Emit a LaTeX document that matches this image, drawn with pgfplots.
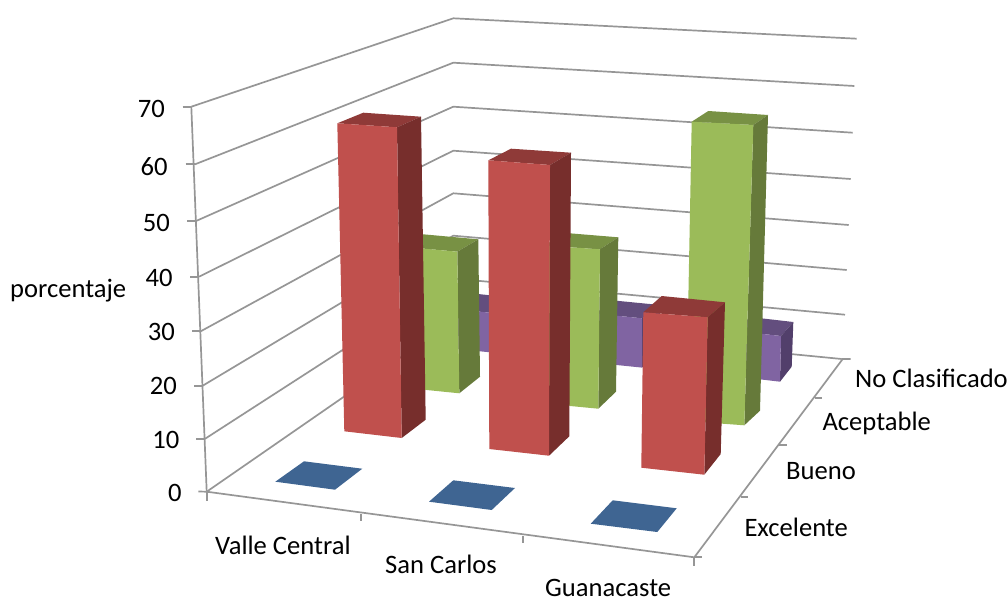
\documentclass[border=0pt]{standalone}
\usepackage{pgfplots}
\pgfplotsset{compat=1.18}
\usepackage{fontspec}
\setmainfont{Carlito}
\definecolor{gridc}{HTML}{969696}
\definecolor{redF}{HTML}{C0504D}\definecolor{redT}{HTML}{8F3A38}\definecolor{redS}{HTML}{772E2C}
\definecolor{greenF}{HTML}{9BBB59}\definecolor{greenT}{HTML}{789144}\definecolor{greenS}{HTML}{667A3A}
\definecolor{purpF}{HTML}{8064A2}\definecolor{purpT}{HTML}{634E7E}\definecolor{purpS}{HTML}{523F6B}
\definecolor{blueF}{HTML}{3F6592}
\pgfplotsset{
  grid line/.style={draw=gridc,line width=1.7pt,no marks,forget plot},
  face/.style={fill=#1,draw=none,no marks,forget plot},
}
\newcommand{\lab}[3]{\node[anchor=base west,inner sep=0pt,font=\fontsize{26.6}{27}\selectfont,text=black] at (axis cs:#1,#2) {#3};}
\newcommand{\tlab}[3]{\node[anchor=east,inner sep=0pt,font=\fontsize{26.6}{27}\selectfont,text=black] at (axis cs:#1,#2) {#3};}
\begin{document}
\begin{tikzpicture}
\path[use as bounding box] (0,0) rectangle (1008pt,599pt);
\begin{axis}[at={(0,0)},anchor=south west,scale only axis,width=1008pt,height=599pt,
  xmin=0,xmax=1008,ymin=0,ymax=599,y dir=reverse,hide axis,clip=false]

% wall gridlines, 70 down to 0
\addplot[grid line] coordinates {(191.3,106.7)(453.3,18.3)(856.7,38.7)};
\addplot[grid line] coordinates {(195,164.3)(453.3,62.7)(854.3,86)};
\addplot[grid line] coordinates {(196.7,220.7)(453.3,106.7)(852.7,132.7)};
\addplot[grid line] coordinates {(199,276.7)(453.3,150.7)(850.7,179)};
\addplot[grid line] coordinates {(200.7,331.3)(453.3,193.3)(848.7,225)};
\addplot[grid line] coordinates {(202.7,385.7)(453.3,235.7)(846.7,270)};
\addplot[grid line] coordinates {(204.7,439)(453.3,278.5)(845,314.7)};
\addplot[grid line] coordinates {(206.7,491.7)(453.3,321)(841.7,359)};

% value axis and its ticks
\addplot[grid line] coordinates {(191.3,106.7)(206.7,491.7)};
\addplot[grid line] coordinates {(182.7,106.7)(191.3,106.7)};
\addplot[grid line] coordinates {(185.7,164.3)(195,164.3)};
\addplot[grid line] coordinates {(187.3,220.7)(196.7,220.7)};
\addplot[grid line] coordinates {(190,276.7)(199,276.7)};
\addplot[grid line] coordinates {(192,331.3)(200.7,331.3)};
\addplot[grid line] coordinates {(194.3,385.7)(202.7,385.7)};
\addplot[grid line] coordinates {(196,439)(204.7,439)};
\addplot[grid line] coordinates {(198.3,491.5)(206.7,491.7)};

% floor edges and their ticks
\addplot[grid line] coordinates {(206.7,491.7)(694.3,557.3)(842.7,359)(850.7,359)};
\addplot[grid line] coordinates {(207.3,491.7)(207.3,500.7)};
\addplot[grid line] coordinates {(361,514)(361,521.3)};
\addplot[grid line] coordinates {(523,536.3)(523,543.3)};
\addplot[grid line] coordinates {(694.3,557.3)(694.3,566.3)};
\addplot[grid line] coordinates {(694.3,557.3)(702,557.3)};
\addplot[grid line] coordinates {(740.7,497.3)(748.3,497.3)};
\addplot[grid line] coordinates {(779.3,444.7)(786.7,444.7)};
\addplot[grid line] coordinates {(815,398.3)(821.7,398.3)};

% No Clasificado row
\addplot[face=purpT] coordinates {(478,294)(525,299)(507,314.4)(457,309.4)} --cycle;
\addplot[face=purpS] coordinates {(507,314.4)(525,299)(524,339)(507,354)} --cycle;
\addplot[face=purpF] coordinates {(457,309.4)(507,314.4)(507,354)(457,349)} --cycle;
\addplot[face=purpT] coordinates {(614,300.5)(660,305)(642,318.3)(595,313.5)} --cycle;
\addplot[face=purpS] coordinates {(642,318.3)(660,305)(659,352)(642,367.6)} --cycle;
\addplot[face=purpF] coordinates {(595,313.5)(642,318.3)(642,367.6)(595,362.8)} --cycle;
\addplot[face=purpT] coordinates {(750,317)(793.3,322)(781,336)(736,331)} --cycle;
\addplot[face=purpS] coordinates {(781,336)(793.3,322)(791.7,366.7)(780,381.7)} --cycle;
\addplot[face=purpF] coordinates {(736,331)(781,336)(780,381.7)(736,376.5)} --cycle;

% Aceptable row
\addplot[face=greenT] coordinates {(420,234)(478.3,239.3)(457.3,251.7)(400,246.5)} --cycle;
\addplot[face=greenS] coordinates {(457.3,251.7)(478.3,239.3)(480,376.7)(459.3,393.3)} --cycle;
\addplot[face=greenF] coordinates {(400,246.5)(457.3,251.7)(459.3,393.3)(402,387.5)} --cycle;
\addplot[face=greenT] coordinates {(566,233)(618.3,237.3)(600,249.3)(544,245.5)} --cycle;
\addplot[face=greenS] coordinates {(600,249.3)(618.3,237.3)(616,391.7)(598.3,408.7)} --cycle;
\addplot[face=greenF] coordinates {(544,245.5)(600,249.3)(598.3,408.7)(544,403.5)} --cycle;
\addplot[face=greenT] coordinates {(708.3,111)(768,115)(753.3,125)(691.7,121.7)} --cycle;
\addplot[face=greenS] coordinates {(753.3,125)(768,115)(760,410.7)(744.3,425.3)} --cycle;
\addplot[face=greenF] coordinates {(691.7,121.7)(753.3,125)(744.3,425.3)(686,421)} --cycle;

% Bueno row
\addplot[face=redT] coordinates {(363.3,112.7)(421,116.7)(397,127.3)(337.3,123.3)} --cycle;
\addplot[face=redS] coordinates {(397,127.3)(421,116.7)(425.7,419.7)(401.7,438)} --cycle;
\addplot[face=redF] coordinates {(337.3,123.3)(397,127.3)(401.7,438)(344.3,431.3)} --cycle;
\addplot[face=redT] coordinates {(511,148.7)(571,152.7)(550,165)(488.3,160.3)} --cycle;
\addplot[face=redS] coordinates {(550,165)(571,152.7)(569.3,436.3)(549,455.7)} --cycle;
\addplot[face=redF] coordinates {(488.3,160.3)(550,165)(549,455.7)(489.3,449)} --cycle;
\addplot[face=redT] coordinates {(661.7,296)(725,302.3)(707.7,317.3)(643.3,312.3)} --cycle;
\addplot[face=redS] coordinates {(707.7,317.3)(725,302.3)(720.7,454)(704.3,474.7)} --cycle;
\addplot[face=redF] coordinates {(643.3,312.3)(707.7,317.3)(704.3,474.7)(641.3,467.7)} --cycle;

% Excelente row, height close to zero
\addplot[face=blueF] coordinates {(304,461.3)(362.3,468.7)(335,489.7)(275.3,481.7)} --cycle;
\addplot[face=blueF] coordinates {(453.3,480.3)(515,488)(491.7,510)(429,501.7)} --cycle;
\addplot[face=blueF] coordinates {(612.7,500.3)(676.7,508.3)(657.3,532)(590.7,523.7)} --cycle;

% labels
\tlab{165}{108.5}{70}
\tlab{167.7}{166.5}{60}
\tlab{170}{222.5}{50}
\tlab{172.7}{278}{40}
\tlab{175}{332}{30}
\tlab{177}{386}{20}
\tlab{179.5}{440}{10}
\tlab{181.7}{493}{0}
\lab{10}{297}{porcentaje}
\lab{215}{554.7}{Valle Central}
\lab{385}{573.7}{San Carlos}
\lab{545}{596}{Guanacaste}
\lab{744.3}{536}{Excelente}
\lab{786}{479.3}{Bueno}
\lab{822.3}{430.7}{Aceptable}
\lab{855}{387.7}{No Clasificado}
\end{axis}
\end{tikzpicture}
\end{document}
